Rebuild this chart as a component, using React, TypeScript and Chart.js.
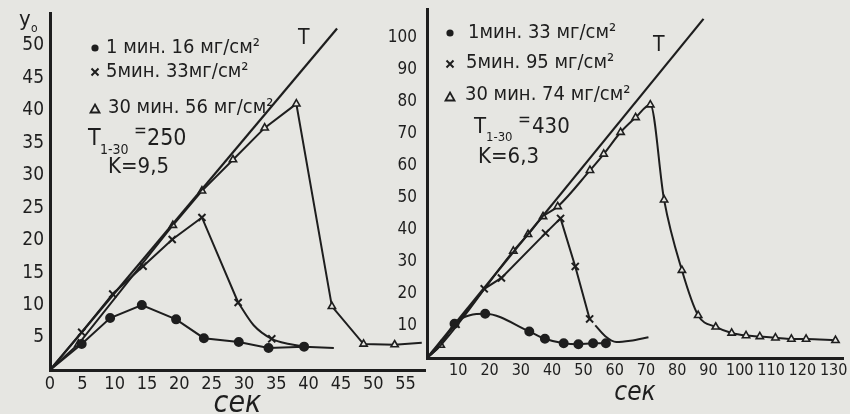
import React, { useEffect, useRef } from "react";
import { Chart, registerables } from "chart.js";

Chart.register(...registerables);

const INK = "#1e1e1e";
const PAPER = "#e6e6e2";
const FONT = '"DejaVu Sans Condensed", "DejaVu Sans", sans-serif';

// ---------- Left panel ----------
const leftXTicks = [0, 5, 10, 15, 20, 25, 30, 35, 40, 45, 50, 55];
const leftYTicks = [5, 10, 15, 20, 25, 30, 35, 40, 45, 50];
const leftTX = [0, 44.4];
const leftTY = [0, 52.6];
const left1X = [0, 4.9, 9.3, 14.2, 19.5, 23.8, 29.2, 33.8, 39.3, 43.9];
const left1Y = [0, 4.0, 8.0, 10.0, 7.8, 4.9, 4.3, 3.4, 3.6, 3.4];
const left5X = [0, 4.9, 9.7, 14.4, 18.9, 23.5, 29.1];
const left5Y = [0, 5.8, 11.7, 16.0, 20.1, 23.5, 10.4];
const left5TailX = [29.1, 31.5, 34.3, 37.0, 39.3];
const left5TailY = [10.4, 6.9, 4.8, 4.0, 3.6];
const left30X = [0, 4.4, 19.0, 23.5, 28.3, 33.2, 38.1, 43.6, 48.5, 53.3, 57.5];
const left30Y = [0, 4.0, 22.3, 27.6, 32.4, 37.3, 41.0, 9.8, 4.0, 3.9, 4.2];
const leftLegend = ["1 мин. 16 мг/см²", "5мин. 33мг/см²", "30 мин. 56 мг/см²"];
const leftTValue = "250";
const leftK = "K=9,5";

// ---------- Right panel ----------
const rightXTicks = [10, 20, 30, 40, 50, 60, 70, 80, 90, 100, 110, 120, 130];
const rightYTicks = [10, 20, 30, 40, 50, 60, 70, 80, 90, 100];
const rightTX = [0, 88.4];
const rightTY = [0, 105.9];
const right1X = [0, 4.4, 8.8, 18.6, 32.7, 37.7, 43.7, 48.4, 53.1, 57.2];
const right1Y = [0, 4.0, 10.7, 13.8, 8.3, 6.0, 4.6, 4.3, 4.6, 4.6];
const right5X = [0, 9.3, 18.3, 23.8, 37.9, 42.7, 47.4, 52.0];
const right5Y = [0, 10.5, 21.6, 25.0, 39.0, 43.6, 28.6, 12.2];
const right5TailX = [53.8, 57.0, 60.5, 65.0, 70.8];
const right5TailY = [10.2, 6.8, 5.0, 5.4, 6.5];
const right30X = [0, 4.4, 27.6, 32.3, 37.1, 41.8, 52.1, 56.5, 61.9, 66.7, 71.4, 75.8, 81.5, 86.7, 92.3, 97.4, 102.0, 106.4, 111.4, 116.5, 121.2, 130.6];
const right30Y = [0, 4.0, 33.4, 38.6, 44.2, 47.3, 58.6, 63.7, 70.5, 75.1, 79.1, 49.4, 27.4, 13.3, 9.7, 7.8, 7.0, 6.7, 6.3, 5.9, 5.9, 5.5];
const rightLegend = ["1мин. 33 мг/см²", "5мин. 95 мг/см²", "30 мин. 74 мг/см²"];
const rightTValue = "430";
const rightK = "K=6,3";

const xTitle = "сек";
const yTitle = "y";
const ySub = "o";
const tLabel = "T";
const tSub = "1-30";

type Marker = "circle" | "crossRot" | "triangle" | null;

function toPoints(xs: number[], ys: (number | null)[]) {
  return xs.map((x, i) => ({ x, y: ys[i] }));
}

function series(
  xs: number[],
  ys: (number | null)[],
  marker: Marker,
  smooth: boolean,
  marked: (i: number) => boolean,
  width = 2
) {
  const r = marker === "crossRot" ? 5 : marker === "triangle" ? 4.2 : 4;
  return {
    data: toPoints(xs, ys),
    showLine: true,
    spanGaps: false,
    borderColor: INK,
    borderWidth: width,
    backgroundColor: INK,
    pointStyle: marker || "circle",
    pointBorderColor: INK,
    pointBackgroundColor: marker === "triangle" ? PAPER : INK,
    pointBorderWidth: marker === "triangle" ? 1.6 : 2,
    pointRadius: (ctx: any) => (marker && marked(ctx.dataIndex) ? r : 0),
    cubicInterpolationMode: smooth ? "monotone" : "default",
    tension: 0,
  };
}

const between = (a: number, b: number) => (i: number) => i >= a && i <= b;
const inList = (list: number[]) => (i: number) => list.indexOf(i) >= 0;

type Note = { text: string; x: number; y: number; size: number; italic?: boolean };
type Glyph = { kind: "dot" | "cross" | "tri"; x: number; y: number };

function notesPlugin(id: string, notes: Note[], glyphs: Glyph[]) {
  return {
    id,
    afterDraw(chart: any) {
      const ctx: CanvasRenderingContext2D = chart.ctx;
      ctx.save();
      ctx.fillStyle = INK;
      ctx.strokeStyle = INK;
      ctx.textBaseline = "middle";
      ctx.textAlign = "left";
      for (const n of notes) {
        ctx.font = `${n.italic ? "italic " : ""}${n.size}px ${FONT}`;
        ctx.fillText(n.text, n.x, n.y);
      }
      for (const g of glyphs) {
        ctx.lineWidth = 2;
        if (g.kind === "dot") {
          ctx.beginPath();
          ctx.arc(g.x, g.y, 3.6, 0, Math.PI * 2);
          ctx.fill();
        } else if (g.kind === "cross") {
          ctx.beginPath();
          ctx.moveTo(g.x - 3.5, g.y - 3.5);
          ctx.lineTo(g.x + 3.5, g.y + 3.5);
          ctx.moveTo(g.x + 3.5, g.y - 3.5);
          ctx.lineTo(g.x - 3.5, g.y + 3.5);
          ctx.stroke();
        } else {
          ctx.lineWidth = 1.8;
          ctx.beginPath();
          ctx.moveTo(g.x, g.y - 4.5);
          ctx.lineTo(g.x + 4.5, g.y + 3.5);
          ctx.lineTo(g.x - 4.5, g.y + 3.5);
          ctx.closePath();
          ctx.stroke();
        }
      }
      ctx.restore();
    },
  };
}

function makeScales(o: {
  xMax: number; yMax: number; xTicks: number[]; yTicks: number[];
  xHeight: number; yWidth: number; xTickSize: number; yTickSize: number;
  xTickPad: number; yTickPad: number; titleSize: number; titlePad: number;
}) {
  return {
    x: {
      type: "linear",
      min: 0,
      max: o.xMax,
      afterBuildTicks: (sc: any) => {
        sc.ticks = o.xTicks.map((v) => ({ value: v }));
      },
      afterFit: (sc: any) => {
        sc.height = o.xHeight;
        sc.paddingLeft = 0;
        sc.paddingRight = 0;
      },
      grid: { display: false, drawTicks: false },
      border: { display: true, color: INK, width: 3 },
      ticks: {
        color: INK,
        font: { family: FONT, size: o.xTickSize },
        padding: o.xTickPad,
        maxRotation: 0,
        autoSkip: false,
      },
      title: {
        display: true,
        text: xTitle,
        color: INK,
        font: { family: FONT, size: o.titleSize, style: "italic", lineHeight: 1 },
        padding: { top: 0, bottom: o.titlePad },
      },
    },
    y: {
      type: "linear",
      min: 0,
      max: o.yMax,
      afterBuildTicks: (sc: any) => {
        sc.ticks = o.yTicks.map((v) => ({ value: v }));
      },
      afterFit: (sc: any) => {
        sc.width = o.yWidth;
        sc.paddingTop = 0;
        sc.paddingBottom = 0;
      },
      grid: { display: false, drawTicks: false },
      border: { display: true, color: INK, width: 3 },
      ticks: {
        color: INK,
        font: { family: FONT, size: o.yTickSize },
        padding: o.yTickPad,
        autoSkip: false,
      },
    },
  };
}

function baseOptions(padding: any, scales: any) {
  return {
    responsive: false,
    animation: false,
    devicePixelRatio: 1,
    events: [],
    layout: { padding },
    plugins: { legend: { display: false }, tooltip: { enabled: false } },
    scales,
  };
}

function leftConfig(): any {
  const notes: Note[] = [
    { text: yTitle, x: 19, y: 20, size: 22 },
    { text: ySub, x: 31, y: 29, size: 12 },
    { text: leftLegend[0], x: 106, y: 48, size: 20 },
    { text: leftLegend[1], x: 106, y: 72, size: 20 },
    { text: leftLegend[2], x: 108, y: 108, size: 20 },
    { text: tLabel, x: 88, y: 139, size: 23 },
    { text: tSub, x: 100, y: 150, size: 14 },
    { text: "=", x: 134, y: 132, size: 17 },
    { text: leftTValue, x: 147, y: 139, size: 23 },
    { text: leftK, x: 108, y: 167, size: 22 },
    { text: tLabel, x: 298, y: 39, size: 21 },
  ];
  const glyphs: Glyph[] = [
    { kind: "dot", x: 95, y: 48 },
    { kind: "cross", x: 95, y: 72 },
    { kind: "tri", x: 95, y: 109 },
  ];
  return {
    type: "scatter",
    data: {
      datasets: [
        series(leftTX, leftTY, null, false, () => false, 2.2),
        series(left1X, left1Y, "circle", false, between(1, 8)),
        series(left5X, left5Y, "crossRot", false, between(1, 6)),
        series(left5TailX, left5TailY, "crossRot", true, inList([2])),
        series(left30X, left30Y, "triangle", false, between(1, 9)),
      ],
    },
    options: baseOptions(
      { left: 0, right: 425, top: 13, bottom: 0 },
      makeScales({
        xMax: 58, yMax: 55, xTicks: leftXTicks, yTicks: leftYTicks,
        xHeight: 44, yWidth: 50, xTickSize: 18, yTickSize: 19,
        xTickPad: 4, yTickPad: 6, titleSize: 30, titlePad: -5,
      })
    ),
    plugins: [notesPlugin("leftNotes", notes, glyphs)],
  };
}

function rightConfig(): any {
  const notes: Note[] = [
    { text: rightLegend[0], x: 468, y: 33, size: 20 },
    { text: rightLegend[1], x: 466, y: 63, size: 20 },
    { text: rightLegend[2], x: 465, y: 95, size: 20 },
    { text: tLabel, x: 474, y: 127, size: 22 },
    { text: tSub, x: 486, y: 138, size: 13 },
    { text: "=", x: 518, y: 121, size: 17 },
    { text: rightTValue, x: 532, y: 127, size: 22 },
    { text: rightK, x: 478, y: 157, size: 22 },
    { text: tLabel, x: 653, y: 46, size: 21 },
  ];
  const glyphs: Glyph[] = [
    { kind: "dot", x: 450, y: 33 },
    { kind: "cross", x: 450, y: 64 },
    { kind: "tri", x: 450, y: 97 },
  ];
  return {
    type: "scatter",
    data: {
      datasets: [
        series(rightTX, rightTY, null, false, () => false, 2.2),
        series(right1X, right1Y, "circle", true, between(2, 9)),
        series(right5X, right5Y, "crossRot", false, between(1, 7)),
        series(right5TailX, right5TailY, null, true, () => false),
        series(right30X, right30Y, "triangle", true, between(1, 21)),
      ],
    },
    options: baseOptions(
      { left: 380, right: 0, top: 9, bottom: 0 },
      makeScales({
        xMax: 133, yMax: 109, xTicks: rightXTicks, yTicks: rightYTicks,
        xHeight: 56, yWidth: 47, xTickSize: 16, yTickSize: 17,
        xTickPad: 3, yTickPad: 10, titleSize: 26, titlePad: 8,
      })
    ),
    plugins: [notesPlugin("rightNotes", notes, glyphs)],
  };
}

export default function App() {
  const leftRef = useRef<HTMLCanvasElement>(null);
  const rightRef = useRef<HTMLCanvasElement>(null);

  useEffect(() => {
    document.body.style.margin = "0";
    document.body.style.background = PAPER;
    const c1 = new Chart(leftRef.current as HTMLCanvasElement, leftConfig());
    const c2 = new Chart(rightRef.current as HTMLCanvasElement, rightConfig());
    return () => {
      c1.destroy();
      c2.destroy();
    };
  }, []);

  return (
    <div style={{ position: "relative", width: 850, height: 414, overflow: "hidden", background: PAPER }}>
      <canvas ref={leftRef} width={850} height={414} style={{ position: "absolute", left: 0, top: 0 }} />
      <canvas ref={rightRef} width={850} height={414} style={{ position: "absolute", left: 0, top: 0 }} />
    </div>
  );
}
